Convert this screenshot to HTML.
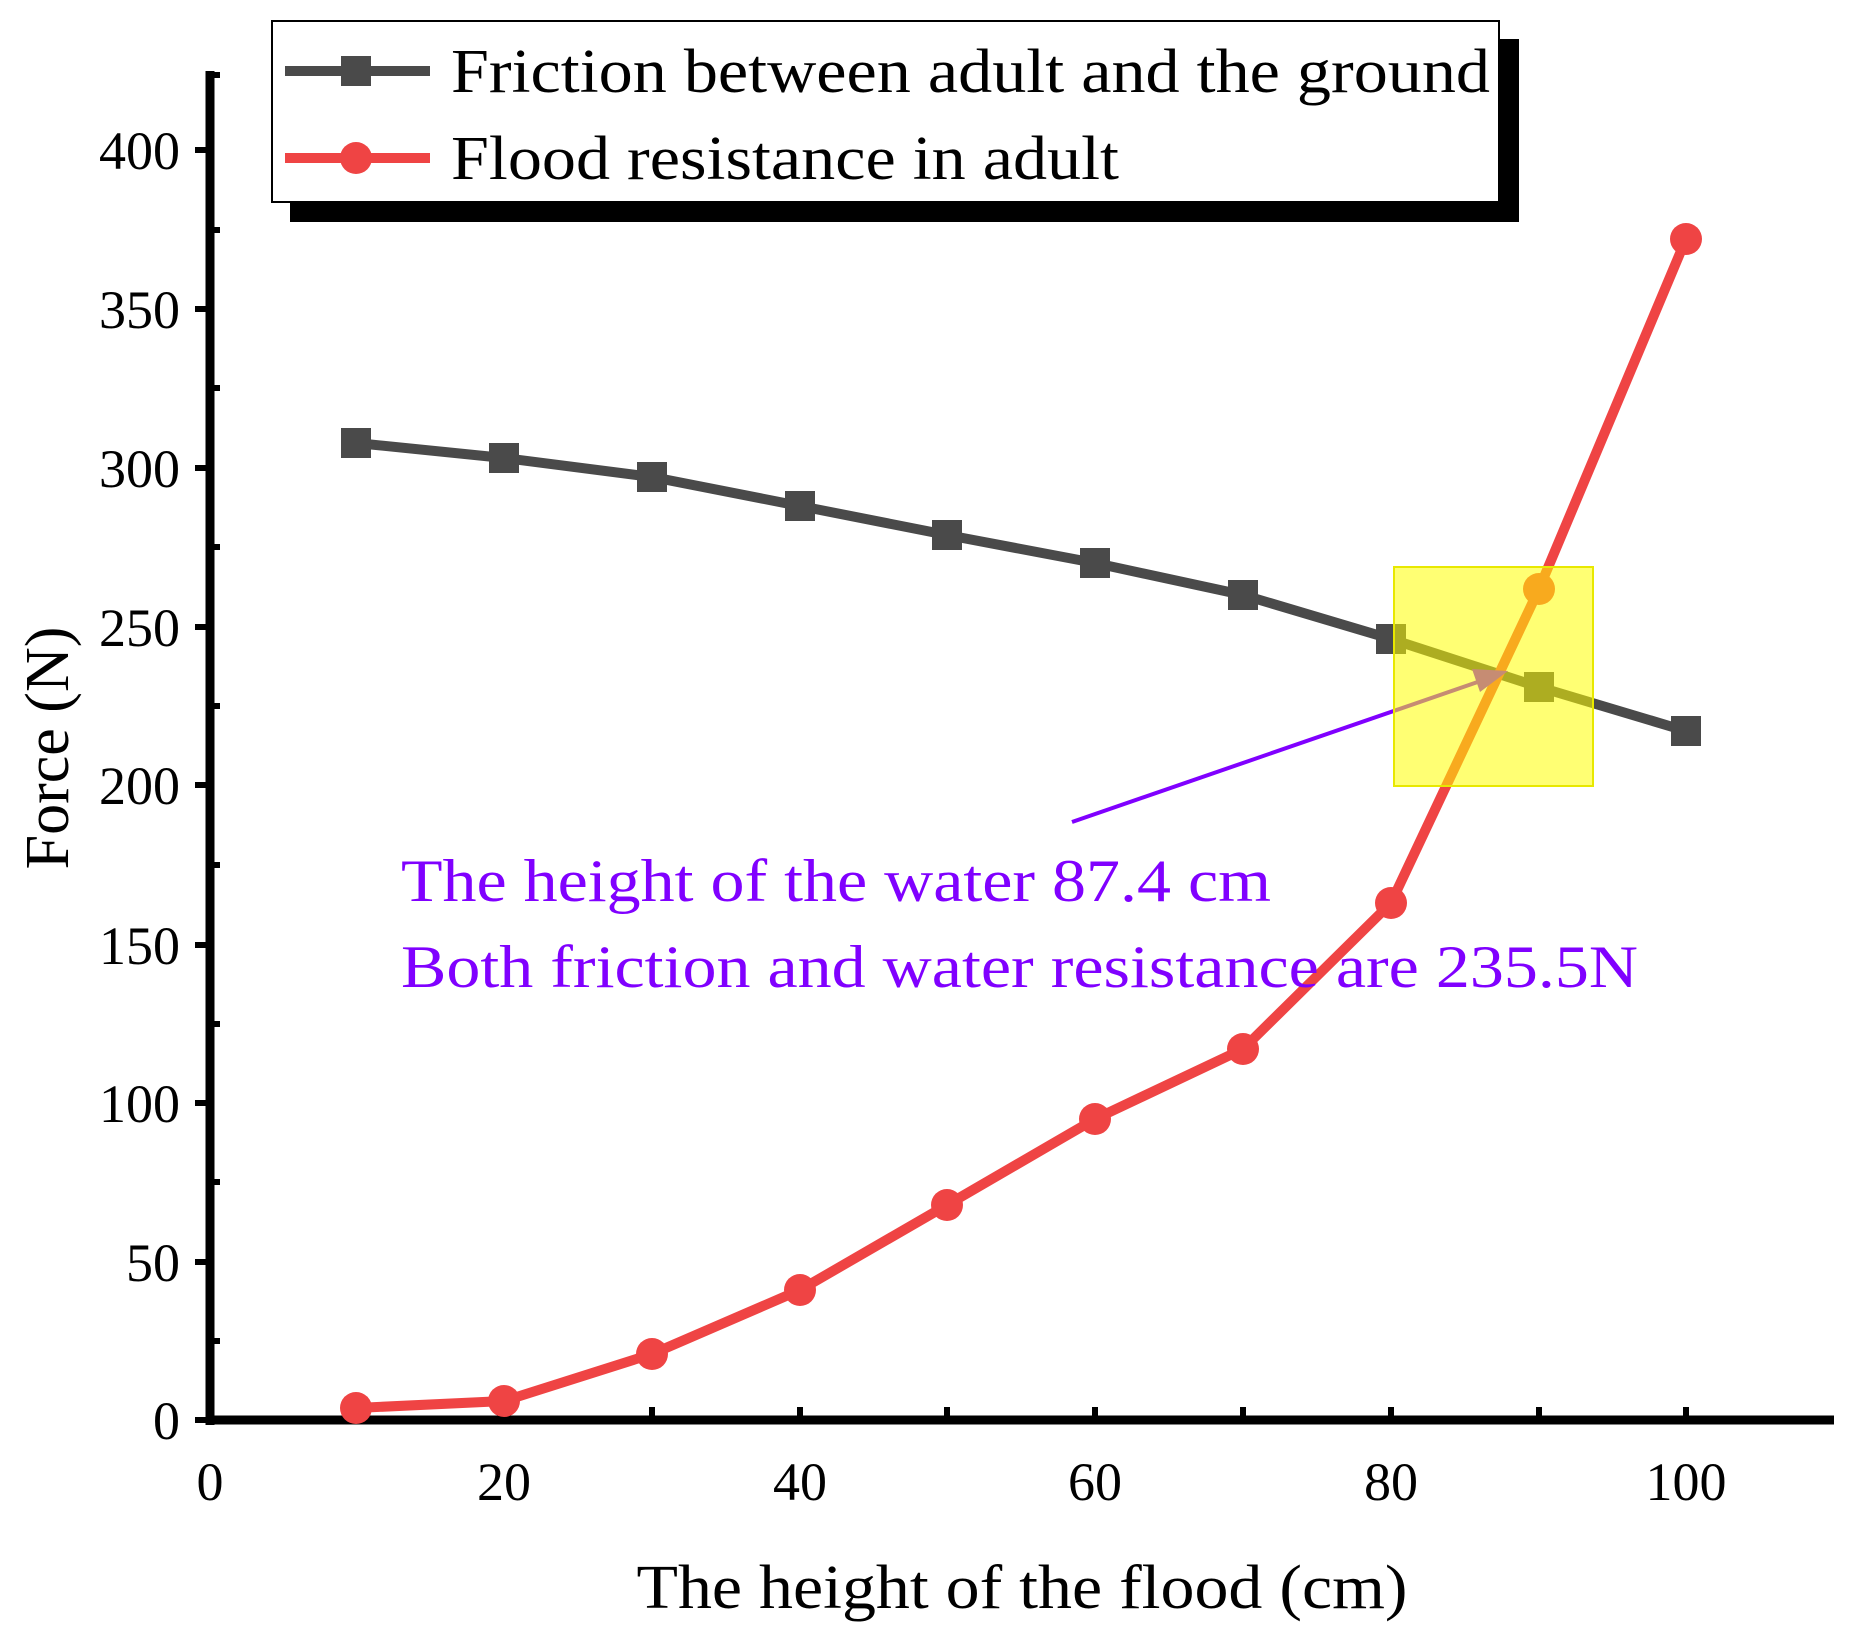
<!DOCTYPE html>
<html><head><style>body{margin:0;background:#fff}svg{display:block}</style></head><body>
<svg width="1852" height="1631" viewBox="0 0 1852 1631" xmlns="http://www.w3.org/2000/svg" font-family="Liberation Serif, serif">
<rect width="1852" height="1631" fill="#fff"/>
<g transform="translate(0,-4)">
<!-- axes -->
<line x1="210" y1="75" x2="210" y2="1429" stroke="#000" stroke-width="9"/>
<line x1="206" y1="1424" x2="1834" y2="1424" stroke="#000" stroke-width="9"/>
<g stroke="#000" stroke-width="6">
<line x1="195" y1="1424" x2="210" y2="1424"/><line x1="195" y1="1266" x2="210" y2="1266"/><line x1="195" y1="1107" x2="210" y2="1107"/><line x1="195" y1="949" x2="210" y2="949"/><line x1="195" y1="789" x2="210" y2="789"/><line x1="195" y1="631" x2="210" y2="631"/><line x1="195" y1="472" x2="210" y2="472"/><line x1="195" y1="313" x2="210" y2="313"/><line x1="195" y1="154" x2="210" y2="154"/>
<line x1="210" y1="1345" x2="220" y2="1345"/><line x1="210" y1="1186" x2="220" y2="1186"/><line x1="210" y1="1028" x2="220" y2="1028"/><line x1="210" y1="869" x2="220" y2="869"/><line x1="210" y1="710" x2="220" y2="710"/><line x1="210" y1="551" x2="220" y2="551"/><line x1="210" y1="392" x2="220" y2="392"/><line x1="210" y1="234" x2="220" y2="234"/><line x1="210" y1="79" x2="220" y2="79"/>
<line x1="356" y1="1424" x2="356" y2="1411"/><line x1="504" y1="1424" x2="504" y2="1411"/><line x1="652" y1="1424" x2="652" y2="1411"/><line x1="800" y1="1424" x2="800" y2="1411"/><line x1="947" y1="1424" x2="947" y2="1411"/><line x1="1095" y1="1424" x2="1095" y2="1411"/><line x1="1243" y1="1424" x2="1243" y2="1411"/><line x1="1391" y1="1424" x2="1391" y2="1411"/><line x1="1539" y1="1424" x2="1539" y2="1411"/><line x1="1686" y1="1424" x2="1686" y2="1411"/>
</g>
<g font-size="54" text-anchor="end">
<text x="180" y="1443">0</text><text x="180" y="1285">50</text><text x="180" y="1126">100</text><text x="180" y="968">150</text><text x="180" y="808">200</text><text x="180" y="650">250</text><text x="180" y="491">300</text><text x="180" y="332">350</text><text x="180" y="173">400</text>
</g>
<g font-size="54" text-anchor="middle">
<text x="210" y="1504">0</text><text x="504" y="1504">20</text><text x="800" y="1504">40</text><text x="1095" y="1504">60</text><text x="1391" y="1504">80</text><text x="1686" y="1504">100</text>
</g>
<!-- series -->
<polyline fill="none" stroke="#4a4a4a" stroke-width="10" points="356,447 504,462 652,481 800,510 947,539 1095,567 1243,599 1391,643 1539,691 1686,735"/>
<g fill="#4a4a4a">
<rect x="341" y="432" width="30" height="30"/><rect x="489" y="447" width="30" height="30"/><rect x="637" y="466" width="30" height="30"/><rect x="785" y="495" width="30" height="30"/><rect x="932" y="524" width="30" height="30"/><rect x="1080" y="552" width="30" height="30"/><rect x="1228" y="584" width="30" height="30"/><rect x="1376" y="628" width="30" height="30"/><rect x="1524" y="676" width="30" height="30"/><rect x="1671" y="720" width="30" height="30"/>
</g>
<polyline fill="none" stroke="#ef4444" stroke-width="10" points="356,1412 504,1405 652,1358 800,1294 947,1209 1095,1123 1243,1053 1391,907 1539,593 1686,243"/>
<g fill="#ef4444">
<circle cx="356" cy="1412" r="16"/><circle cx="504" cy="1405" r="16"/><circle cx="652" cy="1358" r="16"/><circle cx="800" cy="1294" r="16"/><circle cx="947" cy="1209" r="16"/><circle cx="1095" cy="1123" r="16"/><circle cx="1243" cy="1053" r="16"/><circle cx="1391" cy="907" r="16"/><circle cx="1539" cy="593" r="16"/><circle cx="1686" cy="243" r="16"/>
</g>
</g>
<text x="1022" y="1608" font-size="62" text-anchor="middle" textLength="771" lengthAdjust="spacingAndGlyphs">The height of the flood (cm)</text>
<text transform="translate(68,748) rotate(-90)" font-size="62" text-anchor="middle">Force (N)</text>
<!-- legend -->
<rect x="290" y="39" width="1229" height="183" fill="#000"/>
<rect x="272" y="21" width="1227" height="181" fill="#fff" stroke="#000" stroke-width="2"/>
<line x1="285" y1="71" x2="430" y2="71" stroke="#4a4a4a" stroke-width="10"/>
<rect x="341" y="56" width="30" height="30" fill="#4a4a4a"/>
<line x1="285" y1="158" x2="430" y2="158" stroke="#ef4444" stroke-width="10"/>
<circle cx="356" cy="158" r="16" fill="#ef4444"/>
<text x="451" y="92" font-size="62" textLength="1039" lengthAdjust="spacingAndGlyphs">Friction between adult and the ground</text>
<text x="451" y="179" font-size="62" textLength="668" lengthAdjust="spacingAndGlyphs">Flood resistance in adult</text>
<!-- annotation -->
<line x1="1072" y1="822" x2="1495" y2="676" stroke="#8000ff" stroke-width="4"/>
<polygon points="1508,671 1472,669 1480,692" fill="#8000ff"/>
<rect x="1394" y="567" width="199" height="219" fill="#ffff00" fill-opacity="0.55" stroke="#e8e800" stroke-width="2"/>
<text x="401" y="901" font-size="60" fill="#8000ff" textLength="870" lengthAdjust="spacingAndGlyphs">The height of the water 87.4 cm</text>
<text x="401" y="987" font-size="60" fill="#8000ff" textLength="1237" lengthAdjust="spacingAndGlyphs">Both friction and water resistance are 235.5N</text>
</svg>
</body></html>
